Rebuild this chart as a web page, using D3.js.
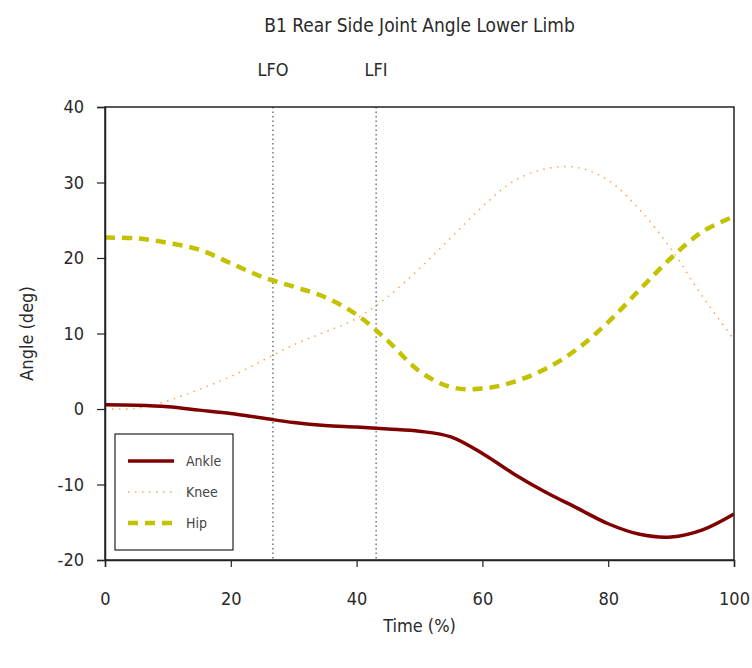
<!DOCTYPE html>
<html>
<head>
<meta charset="utf-8">
<script src="https://cdn.jsdelivr.net/npm/d3@7"></script>
<style>
  html, body { margin: 0; padding: 0; background: #fff; }
  svg { display: block; font-family: "DejaVu Sans Condensed", "DejaVu Sans", sans-serif; }
</style>
</head>
<body>
<svg id="chart" width="752" height="668"></svg>
<script>
// Gait cycle (% of stride) and joint angles in degrees
const timePct = [0, 5, 10, 15, 20, 25, 30, 35, 40, 45, 50, 55, 60, 65, 70, 75, 80, 85, 90, 95, 100];
const ankle = [0.55, 0.5, 0.3, -0.15, -0.6, -1.2, -1.8, -2.2, -2.4, -2.65, -2.95, -3.7, -5.9, -8.6, -11.0, -13.1, -15.2, -16.6, -16.95, -16.0, -13.9];
const knee  = [0.0, 0.1, 1.1, 2.6, 4.3, 6.4, 8.5, 10.2, 12.0, 14.9, 18.6, 22.7, 26.8, 30.2, 31.8, 32.0, 30.3, 26.4, 21.2, 14.9, 9.2];
const hip   = [22.7, 22.6, 22.0, 21.1, 19.3, 17.5, 16.2, 14.8, 12.5, 9.0, 5.0, 2.9, 2.7, 3.6, 5.3, 7.9, 11.5, 15.8, 20.0, 23.5, 25.5];

// Gait events
const eventNames = ["LFO", "LFI"];
const eventPct = [26.7, 43.1];

// Axis ticks
const xTicks = [0, 20, 40, 60, 80, 100];
const yTicks = [-20, -10, 0, 10, 20, 30, 40];

const seriesNames = ["Ankle", "Knee", "Hip"];
const seriesValues = [ankle, knee, hip];
const seriesStyle = [
  { color: "#800000", width: 3.5, dash: null },
  { color: "#FFA24F", width: 1.5, dash: "1.5,5.5" },
  { color: "#C2C200", width: 4.5, dash: "10,7" }
];

const svg = d3.select("#chart");
const m = { left: 105, right: 734, top: 107, bottom: 560 };
const textColor = "#2a2a2a";

const x = d3.scaleLinear().domain([0, 100]).range([m.left, m.right]);
const y = d3.scaleLinear().domain([-20, 40]).range([m.bottom, m.top]);

// Title
svg.append("text")
  .attr("x", (m.left + m.right) / 2).attr("y", 32)
  .attr("text-anchor", "middle")
  .attr("font-size", 19).attr("fill", textColor)
  .text("B1 Rear Side Joint Angle Lower Limb");

// Event markers
eventNames.forEach((name, i) => {
  svg.append("line")
    .attr("x1", x(eventPct[i])).attr("x2", x(eventPct[i]))
    .attr("y1", m.top).attr("y2", m.bottom)
    .attr("stroke", "#333").attr("stroke-width", 1)
    .attr("stroke-dasharray", "1.5,3");
  svg.append("text")
    .attr("x", x(eventPct[i])).attr("y", 76)
    .attr("text-anchor", "middle")
    .attr("font-size", 18).attr("fill", textColor)
    .text(name);
});

// Series
const line = d3.line()
  .x((d, i) => x(timePct[i]))
  .y(d => y(d))
  .curve(d3.curveCatmullRom.alpha(0.5));

svg.append("clipPath").attr("id", "plotClip")
  .append("rect").attr("x", m.left).attr("y", m.top)
  .attr("width", m.right - m.left).attr("height", m.bottom - m.top);

const plot = svg.append("g").attr("clip-path", "url(#plotClip)");
[2, 1, 0].forEach(k => {
  plot.append("path")
    .datum(seriesValues[k])
    .attr("fill", "none")
    .attr("stroke", seriesStyle[k].color)
    .attr("stroke-width", seriesStyle[k].width)
    .attr("stroke-dasharray", seriesStyle[k].dash)
    .attr("stroke-linejoin", "round")
    .attr("d", line);
});

// Frame
svg.append("rect")
  .attr("x", m.left).attr("y", m.top)
  .attr("width", m.right - m.left).attr("height", m.bottom - m.top)
  .attr("fill", "none").attr("stroke", "#222").attr("stroke-width", 1.5);

// Axes (plain hyphen-minus for negative labels)
const fmt = d => String(d);
const yAxis = svg.append("g")
  .attr("transform", `translate(${m.left},0)`)
  .call(d3.axisLeft(y).tickValues(yTicks).tickSize(8).tickPadding(13).tickFormat(fmt));
const xAxis = svg.append("g")
  .attr("transform", `translate(0,${m.bottom})`)
  .call(d3.axisBottom(x).tickValues(xTicks).tickSize(7).tickPadding(25).tickFormat(fmt));

[yAxis, xAxis].forEach(g => {
  g.select(".domain").attr("stroke", "#222").attr("stroke-width", 1.5);
  g.selectAll(".tick line").attr("stroke", "#222").attr("stroke-width", 1.2);
  g.selectAll(".tick text")
    .attr("font-size", 18).attr("fill", textColor)
    .attr("font-family", "'DejaVu Sans Condensed', 'DejaVu Sans', sans-serif");
});
xAxis.selectAll(".tick text").attr("dy", "0.71em");

// Axis titles
svg.append("text")
  .attr("x", (m.left + m.right) / 2).attr("y", 632)
  .attr("text-anchor", "middle")
  .attr("font-size", 18).attr("fill", textColor)
  .text("Time (%)");
svg.append("text")
  .attr("transform", `translate(33,${(m.top + m.bottom) / 2}) rotate(-90)`)
  .attr("text-anchor", "middle")
  .attr("font-size", 18).attr("fill", textColor)
  .text("Angle (deg)");

// Legend
const legend = svg.append("g");
legend.append("rect")
  .attr("x", 115).attr("y", 434).attr("width", 118).attr("height", 116)
  .attr("fill", "#fff").attr("stroke", "#222").attr("stroke-width", 1.2);
seriesNames.forEach((name, i) => {
  const ly = 461 + i * 31;
  legend.append("line")
    .attr("x1", 128).attr("x2", 174).attr("y1", ly).attr("y2", ly)
    .attr("stroke", seriesStyle[i].color)
    .attr("stroke-width", seriesStyle[i].width)
    .attr("stroke-dasharray", seriesStyle[i].dash);
  legend.append("text")
    .attr("x", 186).attr("y", ly).attr("dy", "0.35em")
    .attr("font-size", 14).attr("fill", "#444")
    .text(name);
});
</script>
</body>
</html>
